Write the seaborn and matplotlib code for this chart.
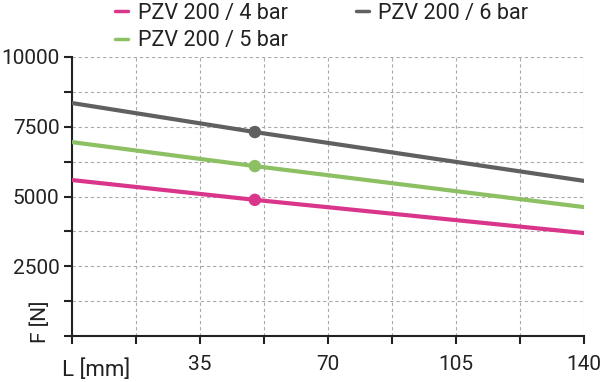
import matplotlib
matplotlib.use("Agg")
import matplotlib.pyplot as plt
import seaborn as sns
import pandas as pd
import numpy as np

# Data
L = [0, 50, 140]
f4 = [5590, 4880, 3690]
f5 = [6950, 6090, 4620]
f6 = [8350, 7310, 5560]
marker_L = 50
series_names = ["PZV 200 / 4 bar", "PZV 200 / 5 bar", "PZV 200 / 6 bar"]
colors = ["#d9368b", "#8cc063", "#606060"]
xticks = [0, 17.5, 35, 52.5, 70, 87.5, 105, 122.5, 140]
xticklabels = ["", "", "35", "", "70", "", "105", "", "140"]
yticks = [0, 1250, 2500, 3750, 5000, 6250, 7500, 8750, 10000]
yticklabels = ["", "", "2500", "", "5000", "", "7500", "", "10000"]

sns.set_theme(style="white")
plt.rcParams["font.family"] = ["Roboto", "DejaVu Sans"]

df = pd.DataFrame({
    "L": L * 3,
    "F": f4 + f5 + f6,
    "series": sum([[n] * len(L) for n in series_names], []),
})
pts = df[df["L"] == marker_L]

fig = plt.figure(figsize=(6, 3.82), dpi=100)
ax = fig.add_axes([0.12, 0.1204, 0.8533, 0.7304])

palette = dict(zip(series_names, colors))
sns.lineplot(data=df, x="L", y="F", hue="series", palette=palette, lw=3, ax=ax,
             legend=True, zorder=3)
sns.scatterplot(data=pts, x="L", y="F", hue="series", palette=palette, s=80,
                edgecolor="none", ax=ax, legend=False, zorder=4, clip_on=False)

ax.set_xlim(0, 140)
ax.set_ylim(0, 10000)
ax.set_xticks(xticks)
ax.set_xticklabels(xticklabels)
ax.set_yticks(yticks)
ax.set_yticklabels(yticklabels)
ax.set_xlabel("")
ax.set_ylabel("")
ax.grid(True, ls=(0, (3, 2.5)), color="#aaaaaa", lw=0.8)
for s in ["top", "right"]:
    ax.spines[s].set_visible(False)
for s in ["left", "bottom"]:
    ax.spines[s].set_color("#222222")
    ax.spines[s].set_linewidth(1.5)
ax.tick_params(axis="both", which="both", direction="out", length=6, width=1.5,
               color="#222222", labelsize=15, labelcolor="#222222", pad=3,
               bottom=True, left=True)
ax.tick_params(axis="x", pad=8)

ax.text(62 / 600, 1 - 370 / 382, "L [mm]", transform=fig.transFigure, ha="left",
        va="center", fontsize=16, color="#222222")
ax.text(40 / 600, 1 - 322 / 382, "F [N]", transform=fig.transFigure, ha="center",
        va="center", rotation=90, fontsize=15, color="#222222")

h, l = ax.get_legend_handles_labels()
ax.get_legend().remove()
leg = fig.legend(h, l, ncol=2, loc="upper left", bbox_to_anchor=(96 / 600, 1.043),
                 frameon=False, fontsize=15.5, handlelength=0.6, handletextpad=0.45,
                 columnspacing=3.15, labelspacing=0.3, labelcolor="#222222")
for line in leg.get_lines():
    line.set_linewidth(2.5)

fig.savefig("out.png", dpi=100)
